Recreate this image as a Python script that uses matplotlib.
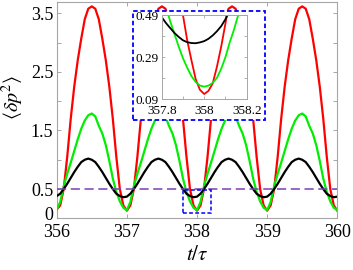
import numpy as np
import matplotlib
matplotlib.use('Agg')
import matplotlib.pyplot as plt
from matplotlib.patches import Rectangle
from matplotlib.transforms import ScaledTranslation

plt.rcParams['font.family'] = ['Liberation Serif', 'DejaVu Serif']
plt.rcParams['mathtext.fontset'] = 'stix'

# ---------------- data ----------------
t_main = np.linspace(356.0, 360.0, 81)

red_main = [
    0.15, 0.22, 0.50, 1.05, 1.70, 2.25, 2.70, 3.07, 3.40, 3.58,
    3.62, 3.58, 3.40, 3.07, 2.70, 2.25, 1.70, 1.05, 0.50, 0.22,
    0.13, 0.22, 0.50, 1.05, 1.70, 2.25, 2.70, 3.07, 3.40, 3.58,
    3.62, 3.58, 3.40, 3.07, 2.70, 2.25, 1.70, 1.05, 0.50, 0.22,
    0.13, 0.22, 0.50, 1.05, 1.70, 2.25, 2.70, 3.07, 3.40, 3.58,
    3.62, 3.58, 3.40, 3.07, 2.70, 2.25, 1.70, 1.05, 0.50, 0.22,
    0.13, 0.22, 0.50, 1.05, 1.70, 2.25, 2.70, 3.07, 3.40, 3.58,
    3.62, 3.58, 3.40, 3.07, 2.70, 2.25, 1.70, 1.05, 0.50, 0.22,
    0.13,
]
green_main = [
    0.15, 0.28, 0.55, 0.76, 0.95, 1.15, 1.35, 1.53, 1.67, 1.76,
    1.79, 1.74, 1.58, 1.45, 1.25, 0.98, 0.68, 0.45, 0.29, 0.18,
    0.14, 0.28, 0.55, 0.76, 0.95, 1.15, 1.35, 1.53, 1.67, 1.76,
    1.79, 1.74, 1.58, 1.45, 1.25, 0.98, 0.68, 0.45, 0.29, 0.18,
    0.14, 0.28, 0.55, 0.76, 0.95, 1.15, 1.35, 1.53, 1.67, 1.76,
    1.79, 1.74, 1.58, 1.45, 1.25, 0.98, 0.68, 0.45, 0.29, 0.18,
    0.14, 0.28, 0.55, 0.76, 0.95, 1.15, 1.35, 1.53, 1.67, 1.76,
    1.79, 1.74, 1.58, 1.45, 1.25, 0.98, 0.68, 0.45, 0.29, 0.18,
    0.14,
]
black_main = [
    0.38, 0.42, 0.50, 0.59, 0.69, 0.79, 0.88, 0.96, 1.00, 1.02,
    1.00, 0.96, 0.88, 0.79, 0.69, 0.59, 0.50, 0.42, 0.38, 0.36,
    0.37, 0.42, 0.50, 0.59, 0.69, 0.79, 0.88, 0.96, 1.00, 1.02,
    1.00, 0.96, 0.88, 0.79, 0.69, 0.59, 0.50, 0.42, 0.38, 0.36,
    0.37, 0.42, 0.50, 0.59, 0.69, 0.79, 0.88, 0.96, 1.00, 1.02,
    1.00, 0.96, 0.88, 0.79, 0.69, 0.59, 0.50, 0.42, 0.38, 0.36,
    0.37, 0.42, 0.50, 0.59, 0.69, 0.79, 0.88, 0.96, 1.00, 1.02,
    1.00, 0.96, 0.88, 0.79, 0.69, 0.59, 0.50, 0.42, 0.38, 0.36,
    0.37,
]

t_inset = np.linspace(357.8, 358.2, 21)
red_inset = [1.25, 1.05, 0.88, 0.73, 0.60, 0.49, 0.37, 0.275, 0.185, 0.135,
             0.115, 0.13, 0.165, 0.245, 0.34, 0.45, 0.57, 0.70, 0.84, 1.00, 1.18]
green_inset = [0.60, 0.53, 0.46, 0.40, 0.34, 0.285, 0.24, 0.20, 0.172, 0.155,
               0.150, 0.155, 0.168, 0.192, 0.235, 0.29, 0.36, 0.42, 0.49, 0.56, 0.64]
black_inset = [0.480, 0.452, 0.428, 0.405, 0.386, 0.370, 0.361, 0.357, 0.356, 0.360,
               0.366, 0.377, 0.393, 0.413, 0.437, 0.470, 0.51, 0.55, 0.59, 0.64, 0.68]

ref_level = 0.5

main_xticks = [356, 357, 358, 359, 360]
main_xticklabels = ['356', '357', '358', '359', '360']
main_yticks = [0, 0.5, 1, 1.5, 2, 2.5, 3, 3.5]
main_yticklabels = ['0', '0.5', '', '1.5', '', '2.5', '', '3.5']
inset_xticks = [357.8, 357.9, 358.0, 358.1, 358.2]
inset_xticklabels = ['357.8', '', '358', '', '358.2']
inset_yticks = [0.09, 0.19, 0.29, 0.39, 0.49]
inset_yticklabels = ['0.09', '', '0.29', '', '0.49']

# ---------------- styles ----------------
RED = '#ff0000'
GREEN = '#00ee00'
BLACK = '#000000'
PURPLE = '#7b3fb5'
BLUE = '#0000ff'
FRAME = '#a6a6a6'

W, H = 353, 270
fig = plt.figure(figsize=(W / 100, H / 100), dpi=100)

ax = fig.add_axes([56.7 / W, 1 - 218.3 / H, (337.3 - 56.7) / W, (218.3 - 1.7) / H])
ax.plot(t_main, red_main, color=RED, lw=1.6, zorder=2)
ax.plot(t_main, green_main, color=GREEN, lw=1.6, zorder=3)
ax.plot(t_main, black_main, color=BLACK, lw=1.6, zorder=4)
ax.axhline(ref_level, color=PURPLE, lw=1.1, ls=(0, (6, 3)), zorder=5)
ax.add_patch(Rectangle((inset_xticks[0], inset_yticks[0]),
                       inset_xticks[-1] - inset_xticks[0],
                       inset_yticks[-1] - inset_yticks[0],
                       fill=False, edgecolor=BLUE, lw=1.1, ls=(0, (2.5, 1.5)), zorder=6))
ax.set_xlim(356, 360)
ax.set_ylim(0, 3.70)
ax.set_xticks(main_xticks)
ax.set_xticklabels(main_xticklabels)
ax.set_yticks(main_yticks)
ax.set_yticklabels(main_yticklabels)
ax.tick_params(direction='in', length=3, width=0.7, color=FRAME, labelsize=13,
               top=True, right=True)
ax.tick_params(axis='x', pad=4.0)
ax.tick_params(axis='y', pad=2.5)
for s in ax.spines.values():
    s.set_color(FRAME)
    s.set_linewidth(0.8)
# lift the "0" label slightly, as in the reference
zero_lbl = ax.get_yticklabels()[0]
zero_lbl.set_transform(zero_lbl.get_transform() +
                       ScaledTranslation(0, 3.5 / 72, fig.dpi_scale_trans))
ax.set_xlabel(r'$t/\tau$', fontsize=15)
ax.xaxis.set_label_coords(0.5, -0.13)
ax.set_ylabel(r'$\langle \delta p^2 \rangle$', fontsize=14.5)
ax.yaxis.set_label_coords(-0.108, 0.56)

# inset frame box (white, dashed blue)
box = Rectangle((133.3 / W, 1 - 120 / H), (265 - 133.3) / W, (120 - 11) / H,
                transform=fig.transFigure, facecolor='white', edgecolor=BLUE,
                lw=1.3, ls=(0, (2.5, 1.5)), zorder=3)
fig.patches.append(box)

axi = fig.add_axes([161.7 / W, 1 - 99.3 / H, (246.7 - 161.7) / W, (99.3 - 15) / H], zorder=5)
axi.plot(t_inset, red_inset, color=RED, lw=1.3)
axi.plot(t_inset, green_inset, color=GREEN, lw=1.3)
axi.plot(t_inset, black_inset, color=BLACK, lw=1.3)
axi.set_xlim(357.8, 358.2)
axi.set_ylim(0.09, 0.49)
axi.set_xticks(inset_xticks)
axi.set_xticklabels(inset_xticklabels)
axi.set_yticks(inset_yticks)
axi.set_yticklabels(inset_yticklabels)
axi.tick_params(direction='in', length=2.5, width=0.6, color=FRAME, labelsize=9.5,
                top=True, right=True)
axi.tick_params(axis='x', pad=3.8)
axi.tick_params(axis='y', pad=2.0)
for s in axi.spines.values():
    s.set_color(FRAME)
    s.set_linewidth(0.7)

fig.savefig('out.png', dpi=100)
